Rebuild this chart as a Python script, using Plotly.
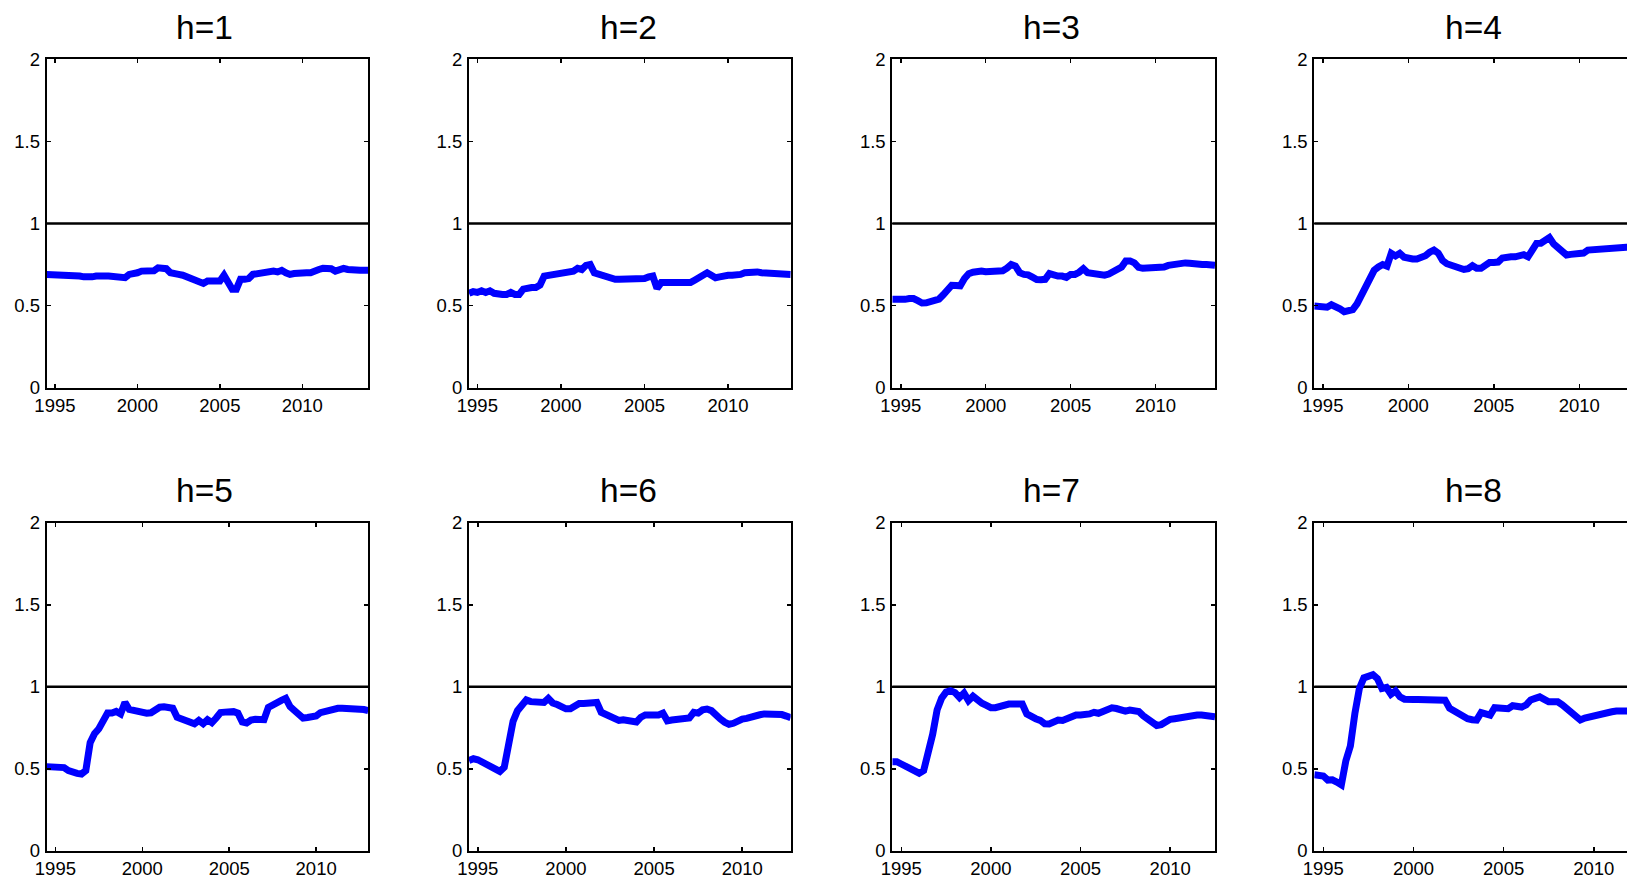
import plotly.graph_objects as go

# ---------------- data (quarterly, starting 1994Q3 = 1994.5) ----------------
start_year = 1994.5
horizons = [1, 2, 3, 4, 5, 6, 7, 8]
titles = ["h=1", "h=2", "h=3", "h=4", "h=5", "h=6", "h=7", "h=8"]
x_ticks = [1995, 2000, 2005, 2010]
y_ticks = [0, 0.5, 1, 1.5, 2]
y_ticktext = ["0", "0.5", "1", "1.5", "2"]
ref_level = 1

h1 = [0.69, 0.69, 0.69, 0.69, 0.69, 0.685, 0.68, 0.68, 0.68, 0.675,
      0.67, 0.675, 0.68, 0.685, 0.68, 0.68, 0.68, 0.68, 0.68, 0.67,
      0.69, 0.69, 0.70, 0.71, 0.71, 0.71, 0.712, 0.73, 0.725, 0.725,
      0.70, 0.69, 0.69, 0.685, 0.675, 0.665, 0.655, 0.645, 0.635, 0.65,
      0.65, 0.65, 0.65, 0.685, 0.65, 0.60, 0.60, 0.66, 0.66, 0.665,
      0.69, 0.695, 0.695, 0.695, 0.70, 0.71, 0.705, 0.715, 0.70, 0.69,
      0.695, 0.70, 0.70, 0.70, 0.70, 0.705, 0.72, 0.727, 0.727, 0.725,
      0.71, 0.715, 0.727, 0.72, 0.715, 0.715, 0.715, 0.715, 0.715]

h2 = [0.575, 0.585, 0.58, 0.59, 0.58, 0.59, 0.575, 0.568, 0.568, 0.568,
      0.58, 0.568, 0.568, 0.60, 0.61, 0.61, 0.61, 0.625, 0.68, 0.685,
      0.69, 0.695, 0.695, 0.70, 0.70, 0.71, 0.727, 0.72, 0.745, 0.75,
      0.70, 0.69, 0.685, 0.67, 0.66, 0.66, 0.66, 0.66, 0.66, 0.66,
      0.66, 0.66, 0.665, 0.675, 0.68, 0.605, 0.64, 0.64, 0.64, 0.63,
      0.63, 0.635, 0.64, 0.64, 0.655, 0.67, 0.685, 0.70, 0.685, 0.67,
      0.675, 0.685, 0.685, 0.685, 0.685, 0.69, 0.70, 0.705, 0.70, 0.705,
      0.70, 0.70, 0.70, 0.70, 0.70, 0.70, 0.695, 0.69]

h3 = [0.538, 0.536, 0.535, 0.538, 0.543, 0.543, 0.53, 0.516, 0.517, 0.524,
      0.527, 0.54, 0.566, 0.595, 0.624, 0.623, 0.621, 0.665, 0.694, 0.703,
      0.712, 0.71, 0.706, 0.706, 0.706, 0.706, 0.712, 0.728, 0.75, 0.74,
      0.70, 0.69, 0.687, 0.673, 0.659, 0.658, 0.66, 0.695, 0.685, 0.68,
      0.68, 0.672, 0.69, 0.69, 0.703, 0.725, 0.70, 0.698, 0.692, 0.684,
      0.685, 0.692, 0.709, 0.717, 0.735, 0.772, 0.772, 0.76, 0.733, 0.727,
      0.727, 0.727, 0.727, 0.727, 0.735, 0.745, 0.75, 0.756, 0.76, 0.76,
      0.758, 0.752, 0.75, 0.75, 0.75, 0.75, 0.745]

h4 = [0.497, 0.497, 0.497, 0.49, 0.505, 0.497, 0.48, 0.463, 0.47, 0.475,
      0.51, 0.565, 0.615, 0.66, 0.715, 0.735, 0.75, 0.74, 0.818, 0.802,
      0.818, 0.795, 0.784, 0.784, 0.784, 0.79, 0.804, 0.825, 0.838, 0.82,
      0.775, 0.755, 0.745, 0.737, 0.727, 0.72, 0.725, 0.743, 0.727, 0.727,
      0.745, 0.762, 0.763, 0.765, 0.79, 0.797, 0.797, 0.797, 0.807, 0.81,
      0.797, 0.83, 0.879, 0.88, 0.895, 0.914, 0.875, 0.852, 0.83, 0.808,
      0.812, 0.814, 0.814, 0.82, 0.838, 0.84, 0.842, 0.85, 0.855, 0.855,
      0.855, 0.855, 0.855, 0.855, 0.855, 0.855]

h5 = [0.514, 0.514, 0.513, 0.512, 0.508, 0.49, 0.479, 0.473, 0.469, 0.49,
      0.66, 0.715, 0.745, 0.80, 0.84, 0.84, 0.85, 0.835, 0.905, 0.862,
      0.856, 0.85, 0.84, 0.839, 0.842, 0.865, 0.876, 0.879, 0.879, 0.87,
      0.815, 0.803, 0.792, 0.785, 0.775, 0.795, 0.775, 0.80, 0.782, 0.81,
      0.843, 0.846, 0.849, 0.849, 0.84, 0.786, 0.78, 0.798, 0.803, 0.806,
      0.80, 0.875, 0.893, 0.905, 0.918, 0.93, 0.88, 0.856, 0.83, 0.81,
      0.813, 0.817, 0.822, 0.843, 0.851, 0.858, 0.862, 0.869, 0.869, 0.869,
      0.869, 0.869, 0.869, 0.862, 0.855]

h6 = [0.552, 0.562, 0.556, 0.54, 0.522, 0.51, 0.494, 0.485, 0.51, 0.676,
      0.79, 0.855, 0.89, 0.92, 0.91, 0.91, 0.90, 0.905, 0.93, 0.902,
      0.892, 0.88, 0.866, 0.866, 0.882, 0.899, 0.899, 0.899, 0.899, 0.905,
      0.845, 0.83, 0.816, 0.80, 0.796, 0.80, 0.796, 0.796, 0.786, 0.815,
      0.829, 0.829, 0.829, 0.829, 0.84, 0.793, 0.798, 0.803, 0.806, 0.807,
      0.81, 0.845, 0.84, 0.86, 0.865, 0.855, 0.826, 0.805, 0.785, 0.772,
      0.778, 0.795, 0.804, 0.808, 0.812, 0.819, 0.83, 0.835, 0.835, 0.835,
      0.835, 0.831, 0.822, 0.812]

h7 = [0.544, 0.544, 0.53, 0.515, 0.505, 0.49, 0.474, 0.49, 0.585, 0.71,
      0.86, 0.931, 0.968, 0.976, 0.965, 0.935, 0.962, 0.916, 0.943, 0.915,
      0.90, 0.887, 0.873, 0.873, 0.883, 0.89, 0.895, 0.895, 0.895, 0.895,
      0.835, 0.816, 0.806, 0.796, 0.775, 0.774, 0.79, 0.798, 0.795, 0.81,
      0.822, 0.828, 0.828, 0.828, 0.835, 0.845, 0.839, 0.85, 0.86, 0.872,
      0.868, 0.858, 0.852, 0.859, 0.859, 0.85, 0.824, 0.805, 0.782, 0.765,
      0.77, 0.787, 0.802, 0.806, 0.81, 0.82, 0.828, 0.828, 0.828, 0.828,
      0.828, 0.822, 0.818]

h8 = [0.465, 0.46, 0.457, 0.432, 0.434, 0.42, 0.403, 0.55, 0.64, 0.838,
      0.99, 1.055, 1.064, 1.074, 1.05, 0.99, 0.996, 0.955, 0.975, 0.939,
      0.925, 0.919, 0.923, 0.923, 0.923, 0.928, 0.925, 0.919, 0.919, 0.919,
      0.87, 0.853, 0.84, 0.822, 0.806, 0.80, 0.798, 0.843, 0.83, 0.828,
      0.873, 0.873, 0.871, 0.867, 0.885, 0.884, 0.877, 0.89, 0.92, 0.93,
      0.939, 0.924, 0.909, 0.909, 0.909, 0.89, 0.868, 0.855, 0.825, 0.798,
      0.81, 0.818, 0.818, 0.825, 0.835, 0.843, 0.848, 0.853, 0.853, 0.853,
      0.853, 0.853]

series = [h1, h2, h3, h4, h5, h6, h7, h8]

# ---------------- layout geometry (pixels) ----------------
W, H = 1627, 879
col_px = [(46.7, 368.3), (469.0, 790.7), (892.3, 1215.0), (1314.3, 1627.0)]
row_px = [(59.3, 387.7), (522.7, 851.0)]
title_x_px = [204, 628, 1051, 1473]
title_y_px = [27.5, 491]
# the right-most column is cut off by the figure edge
visible_end = {4: 2012.79, 8: 2011.84}

FONT = "Liberation Sans, Arial, Helvetica, sans-serif"

fig = go.Figure()
layout = dict(
    width=W, height=H,
    margin=dict(l=0, r=0, t=0, b=0, pad=0, autoexpand=False),
    paper_bgcolor="white", plot_bgcolor="white",
    showlegend=False,
    shapes=[], annotations=[],
)

for k, (h, vals) in enumerate(zip(horizons, series)):
    r, c = divmod(k, 4)
    idx = "" if k == 0 else str(k + 1)
    xname, yname = "x" + idx, "y" + idx
    dates = [start_year + 0.25 * i for i in range(len(vals))]
    x_end = visible_end.get(h, dates[-1])
    cut = h in visible_end

    fig.add_trace(go.Scatter(
        x=dates, y=vals, mode="lines",
        line=dict(color="#0000FF", width=7),
        xaxis=xname, yaxis=yname, hoverinfo="skip",
    ))

    x0p, x1p = col_px[c]
    y0p, y1p = row_px[r]
    layout["xaxis" + idx] = dict(
        domain=[x0p / W, x1p / W], anchor=yname, automargin=False,
        range=[start_year, x_end],
        tickmode="array", tickvals=x_ticks,
        ticks="inside", ticklen=4, tickwidth=1.5, tickcolor="black",
        showline=True, linecolor="black", linewidth=2, mirror="ticks",
        showgrid=False, zeroline=False,
        tickfont=dict(family=FONT, size=18.5, color="black"),
    )
    layout["yaxis" + idx] = dict(
        domain=[1 - y1p / H, 1 - y0p / H], anchor=xname, automargin=False,
        range=[0, 2],
        tickmode="array", tickvals=y_ticks, ticktext=y_ticktext,
        ticks="inside", ticklen=4, tickwidth=1.5, tickcolor="black",
        showline=True, linecolor="black", linewidth=2,
        mirror=False if cut else "ticks",
        showgrid=False, zeroline=False, ticklabelstandoff=1,
        tickfont=dict(family=FONT, size=18.5, color="black"),
    )
    layout["shapes"].append(dict(
        type="line", xref=xname + " domain", yref=yname,
        x0=0, x1=1, y0=ref_level, y1=ref_level,
        line=dict(color="black", width=2.5), layer="below",
    ))
    layout["annotations"].append(dict(
        text=titles[k], xref="paper", yref="paper",
        x=title_x_px[c] / W, y=1 - title_y_px[r] / H,
        xanchor="center", yanchor="middle", showarrow=False,
        font=dict(family=FONT, size=33.5, color="black"),
    ))

fig.update_layout(**layout)
fig.write_html(
    "out.html",
    config={"displayModeBar": False, "staticPlot": True},
    post_script="document.body.style.margin='0';document.body.style.overflow='hidden';",
)
